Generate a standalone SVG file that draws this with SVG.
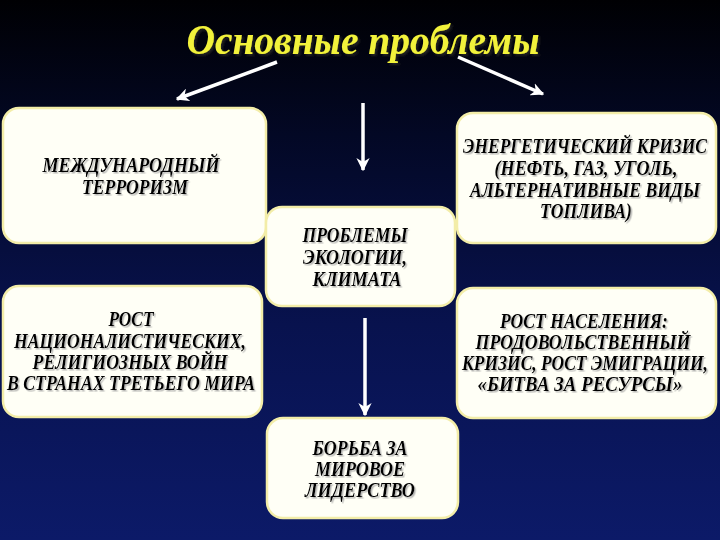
<svg xmlns="http://www.w3.org/2000/svg" width="720" height="540" viewBox="0 0 720 540">
<defs>
<linearGradient id="bg" x1="0" y1="0" x2="0" y2="1">
<stop offset="0" stop-color="#000003"/>
<stop offset="0.25" stop-color="#030825"/>
<stop offset="0.6" stop-color="#08124e"/>
<stop offset="1" stop-color="#0c1a68"/>
</linearGradient>
<filter id="sh" x="-5%" y="-20%" width="110%" height="140%">
<feDropShadow dx="1.7" dy="1.5" stdDeviation="0.6" flood-color="#999" flood-opacity="0.7"/>
</filter>
<filter id="tsh" x="-5%" y="-20%" width="110%" height="140%">
<feDropShadow dx="2" dy="2" stdDeviation="0.8" flood-color="#222" flood-opacity="1"/>
</filter>
<marker id="ah" viewBox="0 0 10 10" refX="9" refY="5" markerWidth="3.8" markerHeight="3.8" orient="auto" markerUnits="strokeWidth">
<path d="M0,0 L10,5 L0,10 L3,5 Z" fill="#ffffff"/>
</marker>
</defs>
<style>
.box{fill:#fffff6;stroke:#f3eda8;stroke-width:2.5}
.t{font-family:"Liberation Serif","DejaVu Serif",serif;font-weight:bold;font-style:italic;font-size:20px;fill:#000;text-anchor:middle;filter:url(#sh)}
.title{font-family:"Liberation Serif","DejaVu Serif",serif;font-weight:bold;font-style:italic;font-size:42px;fill:#f2f23a;text-anchor:middle;filter:url(#tsh)}
.c{stroke:#ffffff;stroke-width:3.5;fill:none;marker-end:url(#ah)}
</style>
<rect width="720" height="540" fill="url(#bg)"/>
<text class="title" x="363" y="54" textLength="353" lengthAdjust="spacingAndGlyphs">Основные проблемы</text>
<g id="connectors">
<line class="c" x1="277" y1="62" x2="177" y2="99"/>
<line class="c" x1="458" y1="57" x2="543" y2="94"/>
<line class="c" x1="363" y1="103" x2="363" y2="170"/>
<line class="c" x1="365" y1="318" x2="365" y2="415"/>
</g>
<g id="n1">
<rect class="box" x="3" y="108" width="263" height="135" rx="16"/>
<text class="t" transform="translate(131,172) scale(0.85,1)" textLength="208.2" lengthAdjust="spacingAndGlyphs">МЕЖДУНАРОДНЫЙ</text>
<text class="t" transform="translate(135,194) scale(0.85,1)" textLength="124.7" lengthAdjust="spacingAndGlyphs">ТЕРРОРИЗМ</text>
</g>
<g id="n2">
<rect class="box" x="457" y="113" width="259" height="130" rx="16"/>
<text class="t" transform="translate(585,153) scale(0.85,1)" textLength="287" lengthAdjust="spacingAndGlyphs">ЭНЕРГЕТИЧЕСКИЙ КРИЗИС</text>
<text class="t" transform="translate(586,175) scale(0.85,1)" textLength="215.3" lengthAdjust="spacingAndGlyphs">(НЕФТЬ, ГАЗ, УГОЛЬ,</text>
<text class="t" transform="translate(585,197) scale(0.85,1)" textLength="270.6" lengthAdjust="spacingAndGlyphs">АЛЬТЕРНАТИВНЫЕ ВИДЫ</text>
<text class="t" transform="translate(586,218) scale(0.85,1)" textLength="108.2" lengthAdjust="spacingAndGlyphs">ТОПЛИВА)</text>
</g>
<g id="n3">
<rect class="box" x="266" y="207" width="189" height="99" rx="16"/>
<text class="t" transform="translate(355,242) scale(0.85,1)" textLength="123.5" lengthAdjust="spacingAndGlyphs">ПРОБЛЕМЫ</text>
<text class="t" transform="translate(355,264) scale(0.85,1)" textLength="122.4" lengthAdjust="spacingAndGlyphs">ЭКОЛОГИИ,</text>
<text class="t" transform="translate(357,286) scale(0.85,1)" textLength="104.7" lengthAdjust="spacingAndGlyphs">КЛИМАТА</text>
</g>
<g id="n4">
<rect class="box" x="3" y="286" width="259" height="131" rx="16"/>
<text class="t" transform="translate(131,326) scale(0.85,1)" textLength="52.9" lengthAdjust="spacingAndGlyphs">РОСТ</text>
<text class="t" transform="translate(130,348) scale(0.85,1)" textLength="272.9" lengthAdjust="spacingAndGlyphs">НАЦИОНАЛИСТИЧЕСКИХ,</text>
<text class="t" transform="translate(130,369) scale(0.85,1)" textLength="229.4" lengthAdjust="spacingAndGlyphs">РЕЛИГИОЗНЫХ ВОЙН</text>
<text class="t" transform="translate(131,390) scale(0.85,1)" textLength="291.8" lengthAdjust="spacingAndGlyphs">В СТРАНАХ ТРЕТЬЕГО МИРА</text>
</g>
<g id="n5">
<rect class="box" x="457" y="288" width="259" height="130" rx="16"/>
<text class="t" transform="translate(584,328) scale(0.85,1)" textLength="197.6" lengthAdjust="spacingAndGlyphs">РОСТ НАСЕЛЕНИЯ:</text>
<text class="t" transform="translate(583,349) scale(0.85,1)" textLength="252.9" lengthAdjust="spacingAndGlyphs">ПРОДОВОЛЬСТВЕННЫЙ</text>
<text class="t" transform="translate(585,370) scale(0.85,1)" textLength="289.4" lengthAdjust="spacingAndGlyphs">КРИЗИС, РОСТ ЭМИГРАЦИИ,</text>
<text class="t" transform="translate(580,391) scale(0.85,1)" textLength="241.2" lengthAdjust="spacingAndGlyphs">«БИТВА ЗА РЕСУРСЫ»</text>
</g>
<g id="n6">
<rect class="box" x="267" y="418" width="191" height="100" rx="16"/>
<text class="t" transform="translate(360,455) scale(0.85,1)" textLength="111.8" lengthAdjust="spacingAndGlyphs">БОРЬБА ЗА</text>
<text class="t" transform="translate(360,476) scale(0.85,1)" textLength="105.9" lengthAdjust="spacingAndGlyphs">МИРОВОЕ</text>
<text class="t" transform="translate(360,497) scale(0.85,1)" textLength="129.4" lengthAdjust="spacingAndGlyphs">ЛИДЕРСТВО</text>
</g>
</svg>
